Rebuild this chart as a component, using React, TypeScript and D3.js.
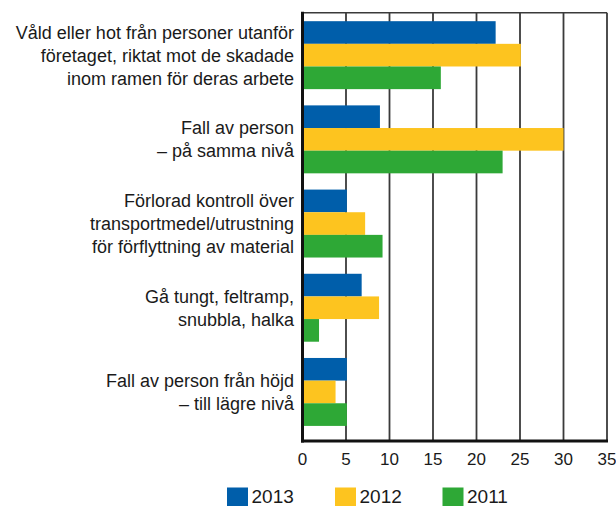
import React, { useEffect, useRef } from "react";
import * as d3 from "d3";

const categories = [
  ["Våld eller hot från personer utanför", "företaget, riktat mot de skadade", "inom ramen för deras arbete"],
  ["Fall av person", "– på samma nivå"],
  ["Förlorad kontroll över", "transportmedel/utrustning", "för förflyttning av material"],
  ["Gå tungt, feltramp,", "snubbla, halka"],
  ["Fall av person från höjd", "– till lägre nivå"],
];
const years = ["2013", "2012", "2011"];
const values2013 = [22.2, 8.9, 5.1, 6.8, 5.1];
const values2012 = [25.1, 30.0, 7.2, 8.8, 3.8];
const values2011 = [15.9, 23.0, 9.2, 1.9, 5.1];
const xTicks = [0, 5, 10, 15, 20, 25, 30, 35];
const colors = ["#005eaa", "#fdc41f", "#2ea836"];

const W = 616, H = 506;
const left = 302.5, right = 607, top = 12.7, bottom = 441;
const font = "'Liberation Sans', Arial, sans-serif";

export default function App() {
  const ref = useRef<SVGSVGElement>(null);

  useEffect(() => {
    const svg = d3.select(ref.current);
    svg.selectAll("*").remove();
    const series = [values2013, values2012, values2011];

    const x = d3.scaleLinear().domain([0, 35]).range([left, right]);
    const y = d3.scaleBand<number>().domain(d3.range(categories.length)).range([top, bottom])
      .paddingInner(0.193).paddingOuter(0.14).align(0.36);
    const yInner = d3.scaleBand<number>().domain([0, 1, 2]).range([0, y.bandwidth()]);

    // grid lines
    svg.append("g").selectAll("line").data(xTicks.slice(1)).join("line")
      .attr("x1", (d) => x(d)).attr("x2", (d) => x(d))
      .attr("y1", top).attr("y2", bottom)
      .attr("stroke", "#3a3a3a").attr("stroke-width", 1.8);
    svg.append("line").attr("x1", left).attr("x2", right).attr("y1", top).attr("y2", top)
      .attr("stroke", "#3a3a3a").attr("stroke-width", 1.5);

    // bars
    const groups = svg.append("g").selectAll("g").data(categories.map((_, i) => i)).join("g")
      .attr("transform", (i) => `translate(0,${y(i)})`);
    groups.selectAll("rect").data((i) => series.map((s, k) => ({ k, v: s[i] }))).join("rect")
      .attr("x", x(0)).attr("y", (d) => yInner(d.k)!)
      .attr("width", (d) => x(d.v) - x(0)).attr("height", yInner.bandwidth())
      .attr("fill", (d) => colors[d.k]);

    // axes lines
    svg.append("line").attr("x1", left).attr("x2", left).attr("y1", top - 1).attr("y2", bottom + 1.5)
      .attr("stroke", "#111").attr("stroke-width", 3);
    svg.append("line").attr("x1", left - 1.5).attr("x2", right + 1).attr("y1", bottom).attr("y2", bottom)
      .attr("stroke", "#111").attr("stroke-width", 3);

    // tick labels
    svg.append("g").selectAll("text").data(xTicks).join("text")
      .attr("x", (d) => x(d)).attr("y", 465)
      .attr("text-anchor", "middle").attr("font-family", font).attr("font-size", 17)
      .attr("fill", "#1a1a1a").text((d) => d);

    // category labels
    const lineH = 23;
    svg.append("g").selectAll("text").data(categories).join("text")
      .attr("text-anchor", "end").attr("font-family", font).attr("font-size", 18).attr("fill", "#1a1a1a")
      .each(function (lines, i) {
        const cy = y(i)! + y.bandwidth() / 2;
        const y0 = cy - ((lines.length - 1) * lineH) / 2 + 6.5;
        d3.select(this).selectAll("tspan").data(lines).join("tspan")
          .attr("x", 294).attr("y", (_, j) => y0 + j * lineH).text((d) => d);
      });

    // legend
    const legendX = [227, 335, 442.5];
    const lg = svg.append("g").selectAll("g").data(years).join("g")
      .attr("transform", (_, i) => `translate(${legendX[i]},487.5)`);
    lg.append("rect").attr("width", 21).attr("height", 20).attr("fill", (_, i) => colors[i]);
    lg.append("text").attr("x", 24.5).attr("y", 15.5).attr("font-family", font).attr("font-size", 19)
      .attr("fill", "#1a1a1a").text((d) => d);
  }, []);

  return (
    <svg ref={ref} width={W} height={H}
      style={{ position: "absolute", left: 0, top: 0, background: "#fff" }} />
  );
}
